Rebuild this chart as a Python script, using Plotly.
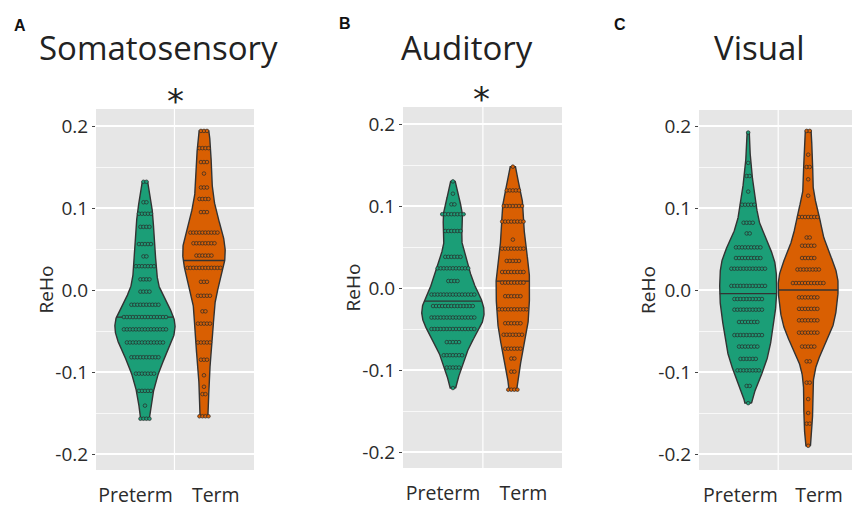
import numpy as np
import plotly.graph_objects as go

# ---------------- data ----------------
groups = ["Preterm", "Term"]
panel_titles = ["Somatosensory", "Auditory", "Visual"]
panel_letters = ["A", "B", "C"]
significance = ["*", "*", ""]
y_tick_vals = [-0.2, -0.1, 0.0, 0.1, 0.2]
y_tick_text = ["-0.2", "-0.1", "0.0", "0.1", "0.2"]

# dot-plot rows: value of each row and number of dots in it
soma_pre_vals = [0.132, 0.107, 0.093, 0.077, 0.056, 0.041, 0.029, 0.013, -0.002, -0.018,
                 -0.033, -0.048, -0.064, -0.082, -0.102, -0.123, -0.141, -0.157]
soma_pre_cnts = [2, 2, 5, 4, 5, 2, 7, 4, 4, 10, 15, 15, 13, 10, 7, 5, 1, 4]
soma_term_vals = [0.194, 0.173, 0.156, 0.142, 0.125, 0.111, 0.095, 0.070, 0.057, 0.042, 0.027,
                  0.010, -0.007, -0.026, -0.041, -0.064, -0.085, -0.104, -0.118, -0.127, -0.154]
soma_term_cnts = [3, 4, 3, 1, 3, 4, 3, 10, 8, 6, 12, 3, 5, 2, 5, 5, 3, 1, 1, 2, 4]

aud_pre_vals = [0.130, 0.115, 0.102, 0.090, 0.0695, 0.038, 0.024, 0.0085, -0.008, -0.022,
                -0.036, -0.050, -0.066, -0.082, -0.097, -0.122]
aud_pre_cnts = [1, 1, 2, 8, 6, 6, 11, 4, 15, 14, 15, 15, 5, 7, 5, 1]
aud_term_vals = [0.148, 0.119, 0.100, 0.081, 0.059, 0.048, 0.033, 0.0195, 0.0065, -0.010,
                 -0.026, -0.043, -0.057, -0.074, -0.086, -0.102, -0.124]
aud_term_cnts = [1, 5, 7, 8, 1, 8, 5, 8, 8, 6, 10, 6, 7, 6, 2, 2, 4]

vis_pre_vals = [0.192, 0.155, 0.139, 0.120, 0.104, 0.082, 0.069, 0.052, 0.039, 0.026, 0.005,
                -0.011, -0.024, -0.039, -0.055, -0.069, -0.084, -0.098, -0.117, -0.138]
vis_pre_cnts = [1, 1, 2, 1, 5, 4, 2, 9, 9, 12, 12, 10, 10, 7, 10, 7, 6, 8, 2, 1]
vis_term_vals = [0.194, 0.165, 0.150, 0.135, 0.115, 0.089, 0.064, 0.054, 0.039, 0.025, 0.0085,
                 -0.009, -0.023, -0.037, -0.052, -0.069, -0.087, -0.113, -0.133, -0.150, -0.163, -0.190]
vis_term_cnts = [2, 1, 2, 1, 1, 7, 2, 5, 5, 8, 11, 7, 7, 7, 7, 5, 2, 2, 1, 1, 2, 1]

# medians drawn across each violin
soma_medians = [-0.033, 0.036]
aud_medians = [-0.016, 0.0085]
vis_medians = [-0.0045, 0.0]

# ---------------- styling ----------------
colors = ["#1b9e77", "#d95f02"]
outline = "#333333"
violin_half_width = [[0.51, 0.36], [0.52, 0.28], [0.475, 0.50]]
dot_step = 0.051
FONT = "Open Sans"

panels = [
    [(soma_pre_vals, soma_pre_cnts), (soma_term_vals, soma_term_cnts)],
    [(aud_pre_vals, aud_pre_cnts), (aud_term_vals, aud_term_cnts)],
    [(vis_pre_vals, vis_pre_cnts), (vis_term_vals, vis_term_cnts)],
]
medians = [soma_medians, aud_medians, vis_medians]

W, H = 852, 507
# plot areas in pixels (left, right, top, bottom)
areas = [(96, 254, 109, 470), (403, 562, 107, 468), (699, 852, 110, 470)]
zero_px = [290, 288, 290]
px_per_unit = 820.0
x_ranges = [[0.17, 2.848], [0.167, 2.82], [0.18, 2.73]]
# where the group names sit under each panel (axis units)
x_label_pos = [[0.84, 2.20], [0.835, 2.175], [0.87, 2.18]]


def nrd0(x):
    sd = np.std(x, ddof=1)
    q75, q25 = np.percentile(x, [75, 25])
    lo = min(sd, (q75 - q25) / 1.34)
    return 0.9 * lo * len(x) ** -0.2


def kde(x, grid, bw):
    z = (grid[:, None] - x[None, :]) / bw
    return np.exp(-0.5 * z ** 2).sum(axis=1) / (len(x) * bw * np.sqrt(2 * np.pi))


fig = go.Figure()
layout = dict(
    width=W, height=H, margin=dict(l=0, r=0, t=0, b=0, autoexpand=False),
    paper_bgcolor="white", plot_bgcolor="#E6E6E6", showlegend=False,
    font=dict(family=FONT, color="#333333"),
)
annotations = []
shapes = []

for p in range(3):
    suffix = "" if p == 0 else str(p + 1)
    xa, ya = "x" + suffix, "y" + suffix
    l, r, t, b = areas[p]
    for g in range(2):
        vals, cnts = panels[p][g]
        vals = np.array(vals, dtype=float)
        cnts = np.array(cnts, dtype=int)
        data = np.repeat(vals, cnts)
        c = g + 1
        grid = np.linspace(data.min(), data.max(), 300)
        d = kde(data, grid, nrd0(data))
        hw = d / d.max() * violin_half_width[p][g]
        vx = np.concatenate([c + hw, (c - hw)[::-1], [c + hw[0]]])
        vy = np.concatenate([grid, grid[::-1], [grid[0]]])
        fig.add_trace(go.Scatter(x=vx, y=vy, xaxis=xa, yaxis=ya, mode="lines",
                                 fill="toself", fillcolor=colors[g],
                                 line=dict(color=outline, width=1.4), hoverinfo="skip"))
        m = medians[p][g]
        mh = np.interp(m, grid, hw)
        fig.add_trace(go.Scatter(x=[c - mh, c + mh], y=[m, m], xaxis=xa, yaxis=ya,
                                 mode="lines", line=dict(color=outline, width=1.3),
                                 hoverinfo="skip"))
        dx, dy = [], []
        for v, n in zip(vals, cnts):
            for i in range(n):
                dx.append(c + (i - (n - 1) / 2) * dot_step)
                dy.append(v)
        fig.add_trace(go.Scatter(x=dx, y=dy, xaxis=xa, yaxis=ya, mode="markers",
                                 marker=dict(size=3.6, color=colors[g],
                                             line=dict(color="#2a2a2a", width=0.7)),
                                 hoverinfo="skip"))

    y_lo = (zero_px[p] - b) / px_per_unit
    y_hi = (zero_px[p] - t) / px_per_unit
    layout["xaxis" + suffix] = dict(
        domain=[l / W, r / W], range=x_ranges[p], anchor=ya, automargin=False,
        tickvals=x_label_pos[p], ticktext=groups, tickangle=0, showgrid=False, zeroline=False,
        ticks="", ticklabelstandoff=11,
        tickfont=dict(size=19.5, color="#2b2b2b", family=FONT), fixedrange=True,
    )
    layout["yaxis" + suffix] = dict(
        domain=[1 - b / H, 1 - t / H], range=[y_lo, y_hi], anchor=xa, automargin=False,
        tickvals=y_tick_vals, ticktext=y_tick_text, showgrid=True,
        gridcolor="white", gridwidth=1.4, zeroline=False,
        ticks="outside", ticklen=3, tickcolor="#444", tickwidth=1,
        tickfont=dict(size=19, color="#2b2b2b", family=FONT), fixedrange=True,
        minor=dict(dtick=0.05, tick0=0, showgrid=True, gridcolor="white", gridwidth=0.7, ticks=""),
    )
    shapes.append(dict(type="line", xref=xa, yref=ya + " domain", x0=1.5, x1=1.5, y0=0, y1=1,
                       line=dict(color="white", width=1.2), layer="below"))

# titles, letters, significance marks, y-axis titles
title_x = [158.5, 466.5, 759.5]
letter_x = [20, 345, 620]
letter_y = [24, 22, 23]
star_x = [175, 482, 0]
star_y = [95, 93, 0]
for p in range(3):
    annotations.append(dict(text=panel_titles[p], x=title_x[p] / W, y=1 - 47 / H,
                            xref="paper", yref="paper", showarrow=False,
                            xanchor="center", yanchor="middle",
                            font=dict(size=33, color="#222222", family=FONT)))
    annotations.append(dict(text="<b>" + panel_letters[p] + "</b>", x=letter_x[p] / W,
                            y=1 - (letter_y[p] + 1) / H, xref="paper", yref="paper",
                            showarrow=False, xanchor="center", yanchor="middle",
                            font=dict(size=16, color="#111111", family="Liberation Sans")))
    if significance[p]:
        annotations.append(dict(text=significance[p], x=star_x[p] / W, y=1 - (star_y[p] + 6) / H,
                                xref="paper", yref="paper", showarrow=False,
                                xanchor="center", yanchor="middle",
                                font=dict(size=34, color="#222222", family="DejaVu Sans")))
    l, r, t, b = areas[p]
    annotations.append(dict(text="ReHo", x=(l - 51) / W, y=1 - ((t + b) / 2) / H,
                            xref="paper", yref="paper", showarrow=False, textangle=-90,
                            xanchor="center", yanchor="middle",
                            font=dict(size=19, color="#2b2b2b", family=FONT)))

layout["annotations"] = annotations
layout["shapes"] = shapes
fig.update_layout(**layout)
fig.write_html("out.html", config={"displayModeBar": False, "staticPlot": True},
               post_script="document.body.style.margin='0px';document.body.style.overflow='hidden';")
